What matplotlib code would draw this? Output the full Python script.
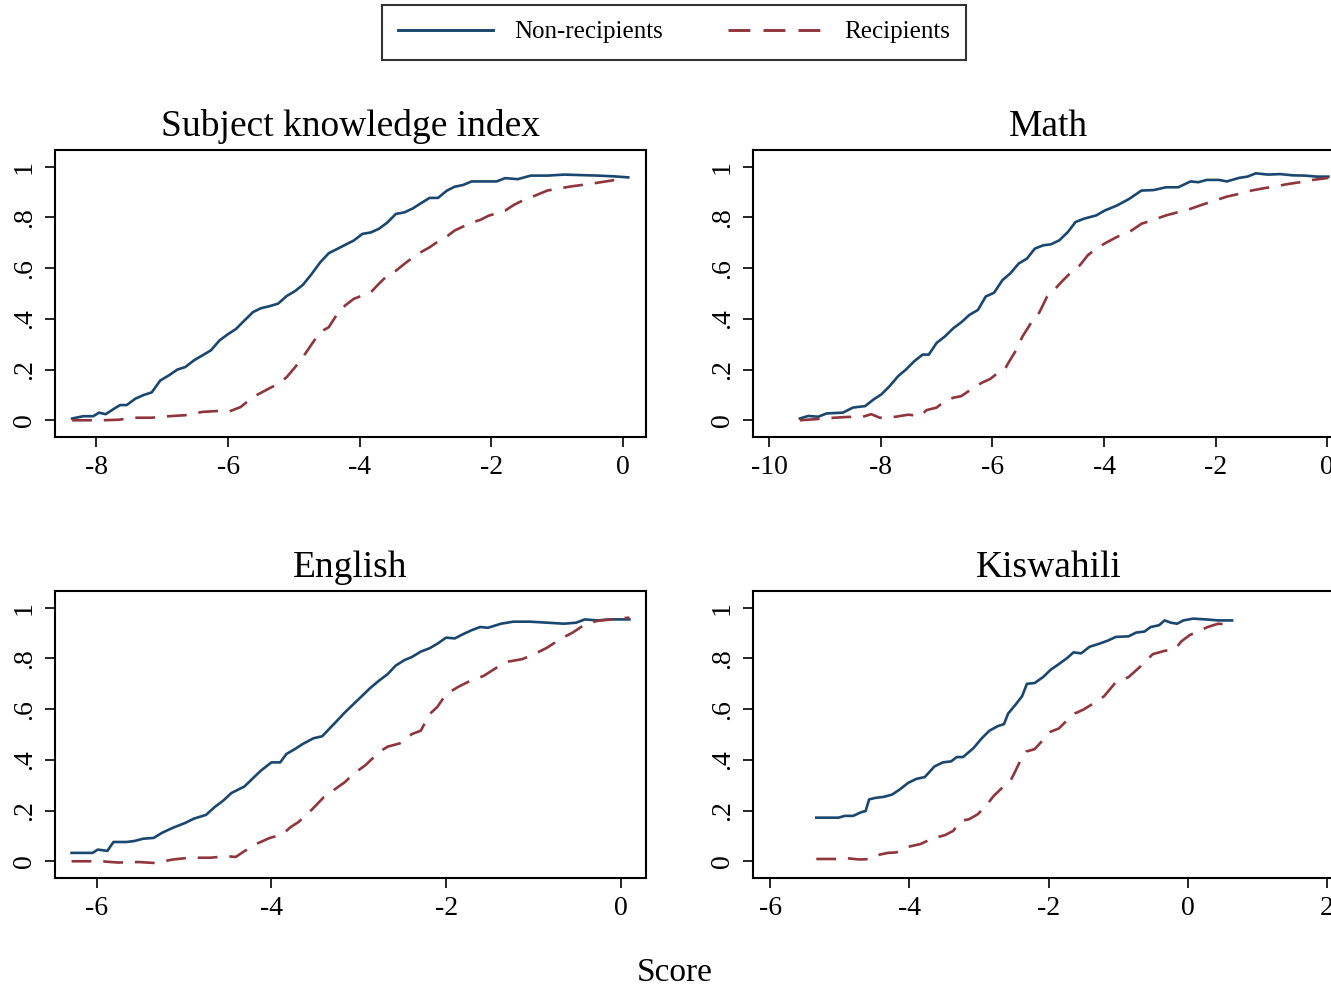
import matplotlib
matplotlib.use("Agg")
import matplotlib.pyplot as plt
from matplotlib.lines import Line2D

plt.rcParams['font.family'] = ['Liberation Serif', 'DejaVu Serif']
plt.rcParams['axes.unicode_minus'] = False

NAVY = '#1a476f'
MAROON = '#90353b'

# --- Subject knowledge index ---
ski_non_x = [-8.37, -8.2, -8.05, -7.96, -7.86, -7.73, -7.64, -7.54, -7.41, -7.28, -7.16, -7.03, -6.9,
             -6.77, -6.65, -6.52, -6.39, -6.26, -6.13, -6.0, -5.88, -5.75, -5.62, -5.5, -5.37, -5.24,
             -5.11, -4.98, -4.86, -4.73, -4.6, -4.47, -4.34, -4.22, -4.09, -3.96, -3.83, -3.71, -3.58,
             -3.45, -3.32, -3.19, -3.07, -2.94, -2.81, -2.68, -2.56, -2.43, -2.3, -2.11, -1.92, -1.79,
             -1.6, -1.4, -1.15, -0.89, -0.64, -0.38, -0.13, 0.08]
ski_non_y = [0.007, 0.016, 0.016, 0.03, 0.024, 0.046, 0.06, 0.06, 0.085, 0.10, 0.11, 0.157, 0.177,
             0.20, 0.21, 0.236, 0.256, 0.276, 0.315, 0.34, 0.36, 0.394, 0.427, 0.442, 0.45, 0.46,
             0.49, 0.51, 0.535, 0.577, 0.623, 0.659, 0.676, 0.692, 0.709, 0.735, 0.741, 0.755, 0.78,
             0.814, 0.82, 0.836, 0.856, 0.877, 0.877, 0.905, 0.921, 0.928, 0.942, 0.942, 0.942, 0.955,
             0.951, 0.965, 0.965, 0.969, 0.967, 0.965, 0.962, 0.958]
ski_rec_x = [-8.37, -8.2, -7.92, -7.67, -7.41, -7.16, -6.9, -6.65, -6.39, -6.13, -6.0, -5.81, -5.62,
             -5.43, -5.24, -5.11, -4.98, -4.86, -4.73, -4.6, -4.47, -4.34, -4.22, -4.09, -3.96, -3.83,
             -3.71, -3.58, -3.45, -3.32, -3.19, -3.07, -2.94, -2.81, -2.68, -2.56, -2.43, -2.3, -2.17,
             -2.04, -1.92, -1.79, -1.66, -1.53, -1.4, -1.28, -1.15, -0.96, -0.77, -0.51, -0.26, 0.03]
ski_rec_y = [0.0, 0.0, 0.0, 0.002, 0.01, 0.01, 0.016, 0.02, 0.033, 0.037, 0.033, 0.052, 0.092,
             0.118, 0.144, 0.17, 0.21, 0.25, 0.30, 0.348, 0.367, 0.42, 0.453, 0.479, 0.492, 0.505,
             0.538, 0.571, 0.59, 0.617, 0.643, 0.663, 0.682, 0.705, 0.724, 0.748, 0.764, 0.78, 0.79,
             0.807, 0.816, 0.827, 0.849, 0.866, 0.879, 0.892, 0.906, 0.915, 0.923, 0.932, 0.942, 0.954]

# --- Math ---
math_non_x = [-9.45, -9.3, -9.12, -8.97, -8.68, -8.5, -8.28, -8.13, -7.99, -7.84, -7.69, -7.55, -7.4,
              -7.25, -7.14, -7.0, -6.85, -6.7, -6.56, -6.41, -6.26, -6.12, -5.97, -5.82, -5.68, -5.53,
              -5.38, -5.24, -5.09, -4.95, -4.8, -4.65, -4.51, -4.36, -4.14, -3.99, -3.77, -3.55, -3.33,
              -3.11, -2.89, -2.67, -2.45, -2.31, -2.16, -1.94, -1.8, -1.58, -1.43, -1.28, -1.06, -0.84,
              -0.62, -0.4, -0.18, 0.02]
math_non_y = [0.007, 0.017, 0.014, 0.027, 0.03, 0.05, 0.056, 0.082, 0.102, 0.135, 0.174, 0.2, 0.233,
              0.259, 0.259, 0.305, 0.331, 0.363, 0.386, 0.416, 0.435, 0.488, 0.503, 0.553, 0.579, 0.618,
              0.638, 0.677, 0.69, 0.694, 0.71, 0.742, 0.782, 0.795, 0.808, 0.827, 0.847, 0.873, 0.906,
              0.908, 0.919, 0.919, 0.942, 0.939, 0.948, 0.948, 0.942, 0.956, 0.961, 0.974, 0.969, 0.971,
              0.966, 0.965, 0.961, 0.961]
math_rec_x = [-9.45, -9.19, -8.9, -8.61, -8.32, -8.17, -8.02, -7.73, -7.51, -7.29, -7.18, -7.0, -6.85,
              -6.7, -6.56, -6.34, -6.19, -6.04, -5.9, -5.79, -5.68, -5.57, -5.46, -5.31, -5.16, -5.02,
              -4.87, -4.73, -4.58, -4.43, -4.29, -4.14, -3.99, -3.77, -3.55, -3.33, -3.11, -2.89, -2.67,
              -2.45, -2.23, -2.01, -1.8, -1.58, -1.36, -1.14, -0.92, -0.7, -0.48, -0.26, 0.02]
math_rec_y = [0.0, 0.004, 0.009, 0.013, 0.014, 0.024, 0.01, 0.014, 0.022, 0.017, 0.04, 0.05, 0.076,
              0.089, 0.095, 0.128, 0.148, 0.163, 0.187, 0.197, 0.239, 0.278, 0.331, 0.383, 0.425, 0.488,
              0.52, 0.553, 0.586, 0.612, 0.651, 0.677, 0.697, 0.723, 0.742, 0.775, 0.791, 0.808, 0.821,
              0.834, 0.851, 0.867, 0.882, 0.893, 0.906, 0.915, 0.923, 0.932, 0.939, 0.948, 0.956]

# --- English ---
eng_non_x = [-6.29, -6.05, -5.99, -5.88, -5.81, -5.66, -5.57, -5.47, -5.35, -5.25, -5.13, -4.99, -4.89,
             -4.75, -4.65, -4.55, -4.46, -4.31, -4.22, -4.12, -4.0, -3.9, -3.83, -3.73, -3.64, -3.52,
             -3.42, -3.35, -3.25, -3.16, -3.06, -2.96, -2.87, -2.77, -2.67, -2.58, -2.48, -2.39, -2.29,
             -2.19, -2.1, -2.0, -1.9, -1.81, -1.71, -1.61, -1.52, -1.37, -1.23, -1.04, -0.84, -0.65,
             -0.51, -0.41, -0.27, -0.12, 0.1]
eng_non_y = [0.033, 0.033, 0.046, 0.041, 0.076, 0.076, 0.08, 0.089, 0.092, 0.113, 0.132, 0.151, 0.168,
             0.183, 0.214, 0.24, 0.269, 0.295, 0.325, 0.358, 0.39, 0.39, 0.423, 0.443, 0.463, 0.485,
             0.493, 0.518, 0.554, 0.587, 0.62, 0.653, 0.683, 0.712, 0.738, 0.771, 0.793, 0.806, 0.827,
             0.84, 0.858, 0.882, 0.879, 0.895, 0.911, 0.924, 0.921, 0.937, 0.945, 0.945, 0.941, 0.937,
             0.941, 0.954, 0.95, 0.954, 0.954]
eng_rec_x = [-6.29, -5.95, -5.76, -5.52, -5.33, -5.13, -4.94, -4.7, -4.51, -4.41, -4.31, -4.17, -4.02,
             -3.88, -3.78, -3.69, -3.54, -3.4, -3.25, -3.16, -3.06, -2.92, -2.77, -2.67, -2.53, -2.39,
             -2.29, -2.19, -2.1, -2.0, -1.86, -1.71, -1.57, -1.42, -1.28, -1.13, -0.99, -0.84, -0.7,
             -0.55, -0.41, -0.27, -0.12, 0.1]
eng_rec_y = [0.0, 0.0, -0.005, -0.003, -0.007, 0.007, 0.014, 0.014, 0.02, 0.017, 0.04, 0.069, 0.092,
             0.105, 0.135, 0.155, 0.203, 0.253, 0.29, 0.312, 0.345, 0.38, 0.43, 0.452, 0.465, 0.502,
             0.515, 0.58, 0.609, 0.659, 0.688, 0.714, 0.731, 0.764, 0.788, 0.797, 0.817, 0.843, 0.875,
             0.902, 0.934, 0.948, 0.954, 0.961]

# --- Kiswahili ---
kis_non_x = [-5.34, -5.02, -4.93, -4.81, -4.69, -4.63, -4.58, -4.49, -4.37, -4.25, -4.14, -4.02, -3.9,
             -3.78, -3.64, -3.52, -3.4, -3.32, -3.23, -3.08, -2.96, -2.85, -2.73, -2.64, -2.58, -2.47,
             -2.38, -2.31, -2.2, -2.08, -1.97, -1.85, -1.73, -1.64, -1.53, -1.41, -1.26, -1.15, -1.03,
             -0.85, -0.74, -0.62, -0.53, -0.41, -0.33, -0.24, -0.15, -0.06, 0.08, 0.26, 0.44, 0.64]
kis_non_y = [0.172, 0.172, 0.179, 0.179, 0.194, 0.198, 0.244, 0.25, 0.254, 0.263, 0.283, 0.309, 0.325,
             0.332, 0.374, 0.39, 0.394, 0.411, 0.411, 0.446, 0.485, 0.515, 0.533, 0.541, 0.583, 0.619,
             0.651, 0.70, 0.703, 0.726, 0.755, 0.778, 0.802, 0.824, 0.82, 0.846, 0.859, 0.87, 0.885,
             0.887, 0.902, 0.906, 0.924, 0.931, 0.95, 0.941, 0.937, 0.95, 0.957, 0.954, 0.95, 0.95]
kis_rec_x = [-5.34, -5.07, -4.9, -4.72, -4.55, -4.43, -4.31, -4.19, -4.02, -3.84, -3.67, -3.49, -3.37,
             -3.26, -3.14, -3.02, -2.91, -2.79, -2.67, -2.55, -2.49, -2.41, -2.32, -2.2, -2.08, -1.97,
             -1.85, -1.73, -1.62, -1.5, -1.32, -1.2, -1.03, -0.85, -0.68, -0.5, -0.33, -0.18, -0.09,
             0.03, 0.17, 0.29, 0.44, 0.64]
kis_rec_y = [0.009, 0.009, 0.012, 0.007, 0.009, 0.026, 0.033, 0.035, 0.057, 0.068, 0.09, 0.103, 0.12,
             0.159, 0.166, 0.185, 0.215, 0.257, 0.289, 0.316, 0.348, 0.394, 0.433, 0.442, 0.478, 0.511,
             0.524, 0.557, 0.583, 0.598, 0.628, 0.651, 0.707, 0.726, 0.768, 0.817, 0.83, 0.837, 0.867,
             0.892, 0.909, 0.924, 0.937, 0.932]

y_ticks = [0, 0.2, 0.4, 0.6, 0.8, 1]
y_labels = ['0', '.2', '.4', '.6', '.8', '1']

panels = [
    ('Subject knowledge index', ski_non_x, ski_non_y, ski_rec_x, ski_rec_y,
     [-8, -6, -4, -2, 0], (-8.63, 0.35), [55, 150]),
    ('Math', math_non_x, math_non_y, math_rec_x, math_rec_y,
     [-10, -8, -6, -4, -2, 0], (-10.29, 0.3), [753, 150]),
    ('English', eng_non_x, eng_non_y, eng_rec_x, eng_rec_y,
     [-6, -4, -2, 0], (-6.48, 0.29), [55, 591]),
    ('Kiswahili', kis_non_x, kis_non_y, kis_rec_x, kis_rec_y,
     [-6, -4, -2, 0, 2], (-6.25, 2.25), [753, 591]),
]

W, H = 1331, 990
fig = plt.figure(figsize=(W / 100, H / 100), dpi=100)

for title, nx, ny, rx, ry, xt, xl, (px, py) in panels:
    ax = fig.add_axes([px / W, 1 - (py + 287) / H, 591 / W, 287 / H])
    ax.plot(nx, ny, color=NAVY, lw=1.9)
    ax.plot(rx, ry, color=MAROON, lw=1.9, dashes=(7.5, 4.5))
    ax.set_xlim(*xl)
    ax.set_ylim(-0.066, 1.066)
    ax.set_xticks(xt)
    ax.set_xticklabels([str(t) for t in xt])
    ax.set_yticks(y_ticks)
    ax.set_yticklabels(y_labels, rotation=90, va='center')
    ax.tick_params(labelsize=20, length=7, width=1.2, direction='out', pad=6)
    for s in ax.spines.values():
        s.set_linewidth(1.5)
    ax.set_title(title, fontsize=27, pad=10)

handles = [Line2D([], [], color=NAVY, lw=2.1),
           Line2D([], [], color=MAROON, lw=2.1, dashes=(7.5, 4.5))]
leg = fig.legend(handles, ['Non-recipients', 'Recipients'], loc='center',
                 bbox_to_anchor=(674 / W, 1 - 32 / H), ncol=2, fontsize=18,
                 frameon=True, fancybox=False, edgecolor='black',
                 handlelength=3.8, handletextpad=0.85, columnspacing=2.6,
                 borderpad=0.65)
leg.get_frame().set_linewidth(1.5)

fig.text(675 / W, 1 - 973 / H, 'Score', ha='center', va='center', fontsize=24)

fig.savefig('out.png', dpi=100)
